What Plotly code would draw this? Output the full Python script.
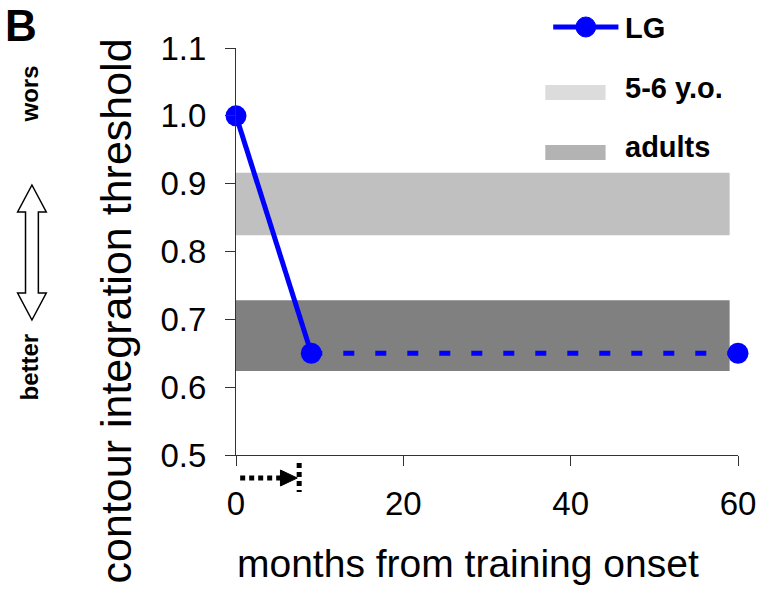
import plotly.graph_objects as go

# ---- data ----
lg_months_solid = [0, 9]
lg_thr_solid = [1.0, 0.65]
lg_months_dash = [9, 60]
lg_thr_dash = [0.65, 0.65]
lg_months_pts = [0, 9, 60]
lg_thr_pts = [1.0, 0.65, 0.65]

band_names = ["5-6 y.o.", "adults"]
band_lo = [0.824, 0.624]
band_hi = [0.916, 0.728]
band_x_start = [0, 0]
band_x_end = [59, 59]
band_colors = ["#c0c0c0", "#808080"]
legend_swatch_colors = ["#dcdcdc", "#b3b3b3"]

x_ticks = [0, 20, 40, 60]
y_ticks = [0.5, 0.6, 0.7, 0.8, 0.9, 1.0, 1.1]
training_arrow_months = [0.5, 7.3]   # dotted arrow under the axis
training_end_month = 7.55

FONT = "Arial, Liberation Sans, sans-serif"
BLUE = "#0000ff"

W, H = 768, 597
L, R, T, B = 236, 744, 48, 455


def px(x):
    return (x - L) / (R - L)


def py(y):
    return (B - y) / (B - T)


fig = go.Figure()

# bands
for lo, hi, x0, x1, c, n in zip(band_lo, band_hi, band_x_start, band_x_end, band_colors, band_names):
    fig.add_trace(go.Scatter(
        x=[x0, x1, x1, x0, x0], y=[lo, lo, hi, hi, lo], fill="toself",
        fillcolor=c, line=dict(width=0), mode="lines", hoverinfo="skip",
        showlegend=False, name=n))

# LG lines
fig.add_trace(go.Scatter(x=lg_months_solid, y=lg_thr_solid, mode="lines",
                         line=dict(color=BLUE, width=5), showlegend=False))
fig.add_trace(go.Scatter(x=lg_months_dash, y=lg_thr_dash, mode="lines",
                         line=dict(color=BLUE, width=5, dash="11px,21px"), showlegend=False))
fig.add_trace(go.Scatter(x=lg_months_pts, y=lg_thr_pts, mode="markers",
                         marker=dict(color=BLUE, size=21), cliponaxis=False,
                         showlegend=False, name="LG"))

shapes = []
annotations = []

# dotted training arrow below x axis
shapes.append(dict(type="line", xref="x", yref="paper",
                   x0=training_arrow_months[0], x1=training_arrow_months[1] - 1.5,
                   y0=py(478), y1=py(478),
                   line=dict(color="black", width=5, dash="5px,4px")))
shapes.append(dict(type="line", xref="x", yref="paper",
                   x0=training_end_month, x1=training_end_month,
                   y0=py(463), y1=py(492),
                   line=dict(color="black", width=5, dash="5px,4px")))
shapes.append(dict(type="path", xref="paper", yref="paper",
                   path=f"M {px(281)},{py(470)} L {px(298)},{py(478)} L {px(281)},{py(486)} Z",
                   fillcolor="black", line=dict(color="black", width=1)))

# double arrow (worse / better)
pts = [(29.5, 185), (44, 212), (36, 212), (36, 293), (44, 293), (29.5, 320),
       (15, 293), (23, 293), (23, 212), (15, 212)]
path = "M " + " L ".join(f"{px(a)},{py(b)}" for a, b in pts) + " Z"
shapes.append(dict(type="path", xref="paper", yref="paper", path=path,
                   fillcolor="white", line=dict(color="black", width=1.5)))

# custom legend
shapes.append(dict(type="line", xref="paper", yref="paper",
                   x0=px(557), x1=px(623), y0=py(27), y1=py(27),
                   line=dict(color=BLUE, width=5)))
shapes.append(dict(type="circle", xref="paper", yref="paper",
                   x0=px(580), x1=px(600), y0=py(37), y1=py(17),
                   fillcolor=BLUE, line=dict(color=BLUE, width=1)))
annotations.append(dict(text="<b>LG</b>", xref="paper", yref="paper", x=px(628), y=py(28),
                        xanchor="left", yanchor="middle", showarrow=False,
                        font=dict(family=FONT, size=29, color="black")))
for i, (n, c) in enumerate(zip(band_names, legend_swatch_colors)):
    yc = [92, 152][i]
    shapes.append(dict(type="rect", xref="paper", yref="paper",
                       x0=px(549), x1=px(610), y0=py(yc + 8), y1=py(yc - 7),
                       fillcolor=c, line=dict(width=0)))
    annotations.append(dict(text=f"<b>{n}</b>", xref="paper", yref="paper", x=px(628),
                            y=py([88, 147][i]), xanchor="left", yanchor="middle", showarrow=False,
                            font=dict(family=FONT, size=29, color="black")))

# panel letter and side labels
annotations.append(dict(text="<b>B</b>", xref="paper", yref="paper", x=px(0), y=py(-1),
                        xanchor="left", yanchor="top", showarrow=False,
                        font=dict(family=FONT, size=44, color="black")))
annotations.append(dict(text="<b>wors</b>", xref="paper", yref="paper", x=px(27), y=py(94),
                        xanchor="center", yanchor="middle", textangle=-90, showarrow=False,
                        font=dict(family=FONT, size=24, color="black")))
annotations.append(dict(text="<b>better</b>", xref="paper", yref="paper", x=px(27), y=py(367),
                        xanchor="center", yanchor="middle", textangle=-90, showarrow=False,
                        font=dict(family=FONT, size=24, color="black")))

# axis titles
annotations.append(dict(text="contour integration threshold", xref="paper", yref="paper",
                        x=px(115), y=py(311), xanchor="center", yanchor="middle",
                        textangle=-90, showarrow=False,
                        font=dict(family=FONT, size=43, color="black")))
annotations.append(dict(text="months from training onset", xref="paper", yref="paper",
                        x=px(471), y=py(563), xanchor="center", yanchor="middle",
                        showarrow=False, font=dict(family=FONT, size=39, color="black")))

fig.update_layout(
    width=W, height=H,
    margin=dict(l=L, r=W - R, t=T, b=H - B, pad=0),
    paper_bgcolor="white", plot_bgcolor="white",
    shapes=shapes, annotations=annotations,
    showlegend=False,
    font=dict(family=FONT, color="black"),
)
fig.update_xaxes(range=[0, 60], tickvals=x_ticks, ticktext=[str(v) for v in x_ticks],
                 showline=True, linecolor="#333", linewidth=1, ticks="outside",
                 ticklen=10, tickcolor="#333", showgrid=False, zeroline=False,
                 ticklabelstandoff=9, tickfont=dict(family=FONT, size=33, color="black"))
fig.update_yaxes(range=[0.5, 1.1], tickvals=y_ticks, ticktext=[f"{v:.1f}" for v in y_ticks],
                 showline=True, linecolor="#333", linewidth=1, ticks="outside",
                 ticklen=10, tickcolor="#333", showgrid=False, zeroline=False,
                 ticklabelstandoff=12, tickfont=dict(family=FONT, size=33, color="black"))

fig.write_html("out.html", config={"displayModeBar": False},
               post_script="document.body.style.margin='0';document.body.style.overflow='hidden';")
